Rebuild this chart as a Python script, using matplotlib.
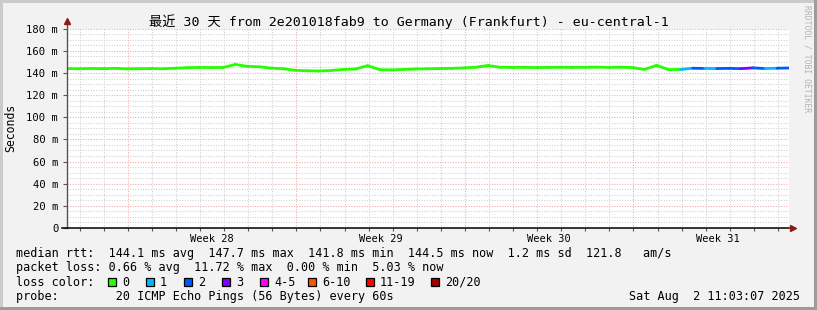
import numpy as np
import matplotlib.pyplot as plt
from matplotlib.collections import LineCollection
from matplotlib.patches import Rectangle
from datetime import datetime

plt.rcParams['font.family'] = ['DejaVu Sans Mono', 'Noto Sans CJK SC']

# DATA - median rtt (ms) every 12 hours over the 30 days
days = np.arange(61) * 0.5
median_ms = [144.0, 143.8, 144.1, 143.9, 144.2, 143.7, 143.9, 144.0, 143.8, 144.3,
             144.8, 145.0, 144.9, 145.0, 147.7, 146.0, 145.6, 144.4, 143.8, 142.4,
             142.0, 141.8, 142.3, 143.2, 143.6, 146.6, 143.0, 142.8, 143.2, 143.6,
             143.8, 144.0, 144.2, 144.6, 145.2, 146.8, 145.2, 145.0, 145.1, 144.9,
             145.0, 145.2, 145.0, 145.1, 145.3, 145.0, 145.2, 144.9, 143.2, 146.9,
             143.0, 143.2, 144.3, 144.1, 144.0, 144.2, 143.9, 144.6, 144.0, 144.3,
             144.5]
# loss level of each segment (index into loss_colors)
loss_lvl = [0, 0, 0, 0, 0, 0, 0, 0, 0, 0,
            0, 0, 0, 0, 0, 0, 0, 0, 0, 0,
            0, 0, 0, 0, 0, 0, 0, 0, 0, 0,
            0, 0, 0, 0, 0, 0, 0, 0, 0, 0,
            0, 0, 0, 0, 0, 0, 0, 0, 0, 0,
            0, 1, 2, 1, 2, 2, 3, 2, 1, 2]

loss_labels = ['0', '1', '2', '3', '4-5', '6-10', '11-19', '20/20']
loss_colors = ['#26ff00', '#00b8ff', '#0059ff', '#7e00ff', '#ff00ff', '#ff5500', '#ff0000', '#a10000']

y_ticks = [0, 20, 40, 60, 80, 100, 120, 140, 160, 180]
y_labels = ['0', '20 m', '40 m', '60 m', '80 m', '100 m', '120 m', '140 m', '160 m', '180 m']
week_labels = ['Week 28', 'Week 29', 'Week 30', 'Week 31']

start = datetime(2025, 7, 3, 11, 3, 7)

# TIME GRID (in days since start)
first_midnight = (datetime(2025, 7, 4) - start).total_seconds() / 86400
first_sunday = (datetime(2025, 7, 6) - start).total_seconds() / 86400
midnights = [first_midnight + k for k in range(30) if first_midnight + k < 30]
sundays = [first_sunday + 7 * k for k in range(4)]
week_mid = [s + 3.5 for s in sundays]

W, H = 817, 310
def fx(x):
    return x / W
def fy(y):
    return 1 - y / H

fig = plt.figure(figsize=(W / 100, H / 100), dpi=100, facecolor='#f2f2f2')
ax = fig.add_axes([fx(66.7), fy(228), (789 - 66.7) / W, (228 - 28.7) / H])
ax.set_facecolor('white')
ax.set_xlim(0, 30)
ax.set_ylim(0, 180)

# GRID
dots = (0, (1, 1.5))
for v in range(5, 181, 5):
    if v % 20 == 0:
        ax.axhline(v, color='#f2a8a8', lw=0.75, ls=dots, zorder=1)
    else:
        ax.axhline(v, color='#d0d0d0', lw=0.75, ls=dots, zorder=1)
for d in midnights:
    if min(abs(d - s) for s in sundays) < 0.01:
        ax.axvline(d, color='#f2a8a8', lw=0.75, ls=dots, zorder=1)
    else:
        ax.axvline(d, color='#d0d0d0', lw=0.75, ls=dots, zorder=1)

# MEDIAN LINE COLOURED BY LOSS
pts = np.column_stack([days, median_ms])
segs = np.stack([pts[:-1], pts[1:]], axis=1)
lc = LineCollection(segs, colors=[loss_colors[i] for i in loss_lvl], linewidths=2.0,
                    capstyle='round', zorder=3)
ax.add_collection(lc)

# AXES
for s in ax.spines.values():
    s.set_visible(False)
ax.plot([0, 0], [0, 1.03], color='#555555', lw=1, transform=ax.transAxes, clip_on=False, zorder=4)
ax.plot([-0.007, 1.0], [0, 0], color='black', lw=1.1, transform=ax.transAxes, clip_on=False, zorder=4)
ax.plot([0], [1.04], marker='^', ms=5, color='#8b1a1a', transform=ax.transAxes, clip_on=False, zorder=5)
ax.plot([1.005], [0], marker='>', ms=5, color='#8b1a1a', transform=ax.transAxes, clip_on=False, zorder=5)

ax.set_yticks(y_ticks, y_labels)
ax.tick_params(axis='y', length=3, width=0.8, color='#555555', pad=3, labelsize=7.6)
ax.set_xticks(week_mid, week_labels)
ax.tick_params(axis='x', which='major', length=0, pad=4, labelsize=7.5)
ax.set_xticks(midnights, minor=True)
ax.tick_params(axis='x', which='minor', length=2, width=0.8, color='#555555')

# TITLES
fig.text(fx(408.5), fy(21.7), '最近 30 天 from 2e201018fab9 to Germany (Frankfurt) - eu-central-1',
         ha='center', va='center', fontsize=9.5)
fig.text(fx(10.5), fy(128), 'Seconds', rotation=90, ha='center', va='center', fontsize=8.3)
fig.text(fx(807), fy(5), 'RRDTOOL / TOBI OETIKER', rotation=-90, ha='center', va='top',
         fontsize=5.8, color='#b4b4b4')

# LEGEND
fs = 8.45
fig.text(fx(16), fy(254), 'median rtt:  144.1 ms avg  147.7 ms max  141.8 ms min  144.5 ms now  1.2 ms sd  121.8   am/s',
         ha='left', va='center', fontsize=fs)
fig.text(fx(16), fy(268), 'packet loss: 0.66 % avg  11.72 % max  0.00 % min  5.03 % now',
         ha='left', va='center', fontsize=fs)
fig.text(fx(16), fy(282), 'loss color:', ha='left', va='center', fontsize=fs)
box_x = [108, 146, 184, 222, 260, 308, 366, 431]
for bx, lab, col in zip(box_x, loss_labels, loss_colors):
    fig.add_artist(Rectangle((fx(bx), fy(286)), 8 / W, 8 / H, transform=fig.transFigure,
                             facecolor=col, edgecolor='black', lw=0.9))
    fig.text(fx(bx + 14), fy(282), lab, ha='left', va='center', fontsize=fs)
fig.text(fx(16), fy(296.5), 'probe:        20 ICMP Echo Pings (56 Bytes) every 60s',
         ha='left', va='center', fontsize=fs)
fig.text(fx(800), fy(296.5), 'Sat Aug  2 11:03:07 2025', ha='right', va='center', fontsize=fs)

# 3D FRAME
fig.add_artist(Rectangle((0, 0), fx(2.5), 1, transform=fig.transFigure, facecolor='#cbcbcb', lw=0))
fig.add_artist(Rectangle((0, fy(2.5)), 1, 2.5 / H, transform=fig.transFigure, facecolor='#cbcbcb', lw=0))
fig.add_artist(Rectangle((fx(813.5), 0), 3.5 / W, 1, transform=fig.transFigure, facecolor='#9c9c9c', lw=0))
fig.add_artist(Rectangle((0, 0), 1, 3 / H, transform=fig.transFigure, facecolor='#9c9c9c', lw=0))

fig.savefig('out.png', dpi=100, facecolor=fig.get_facecolor())
